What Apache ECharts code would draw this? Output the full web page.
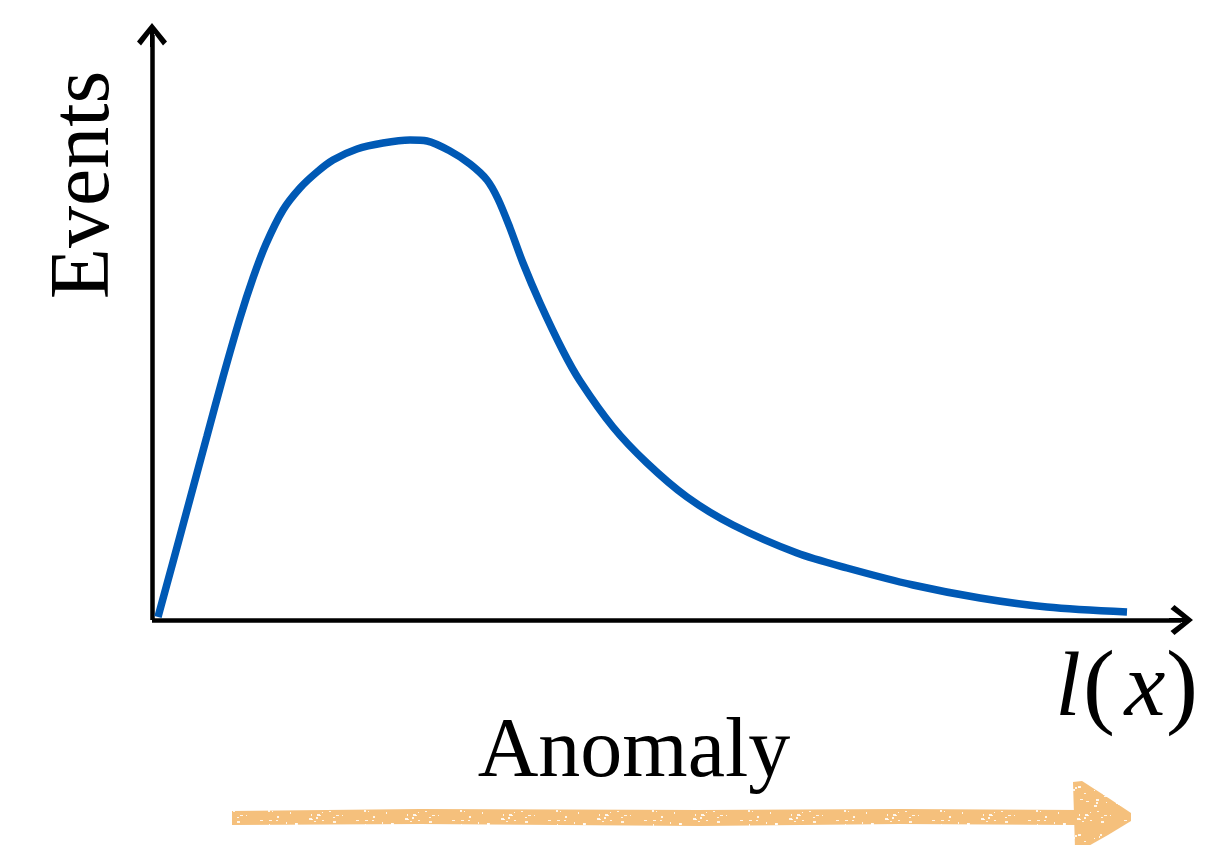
<!DOCTYPE html>
<html>
<head>
<meta charset="utf-8">
<style>
  html, body { margin: 0; padding: 0; background: #ffffff; }
  #chart { width: 1215px; height: 845px; }
</style>
<script src="https://cdn.jsdelivr.net/npm/echarts@6/dist/echarts.min.js"></script>
</head>
<body>
<div id="chart"></div>
<script>
// Distribution of events over the anomaly score l(x)
const scoreValues = [6, 21, 38, 55, 71, 88, 101, 114, 131, 148, 165, 181, 205, 231, 258, 275, 298, 318, 335, 346, 358, 371, 388, 411, 428, 461, 495, 535, 581, 645, 695, 761, 828, 895, 975];
const eventCounts = [3, 58, 121, 184, 243, 302, 342, 376, 410, 432, 448, 460, 471, 477, 480, 479, 469, 456, 440, 421, 392, 357, 317, 269, 239, 193, 157, 123, 95, 67, 52, 35, 22, 13, 8];

const xRange = [0, 1029];
const yRange = [0, 585];

const yAxisTitle = 'Events';
const xAxisTitle = ['l', '(', 'x', ')'];
const directionTitle = 'Anomaly';

const curveData = scoreValues.map((x, i) => [x, eventCounts[i]]);

// open chevron arrowhead (points up; ECharts rotates it along each axis)
const chevron = 'path://M15 0 L30 18.5 L26 22.5 L15 8 L4 22.5 L0 18.5 Z M13 6 L17 6 L17 24 L13 24 Z';

const axisCommon = {
  type: 'value',
  axisLine: {
    show: true,
    onZero: false,
    symbol: ['none', chevron],
    symbolSize: [30, 24],
    lineStyle: { color: '#000000', width: 4.5, cap: 'butt' }
  },
  axisTick: { show: false },
  axisLabel: { show: false },
  splitLine: { show: false }
};

const serif = '"Liberation Serif", "Times New Roman", serif';
const orange = '#f5c07c';

// chalky brush texture for the orange arrow (fixed speckle layout)
function chalkPattern() {
  const c = document.createElement('canvas');
  c.width = 96; c.height = 48;
  const g = c.getContext('2d');
  g.fillStyle = orange;
  g.fillRect(0, 0, c.width, c.height);
  g.fillStyle = 'rgba(255,255,255,0.85)';
  let s = 17;
  const next = () => { s = (s * 1103515245 + 12345) % 2147483648; return s / 2147483648; };
  for (let i = 0; i < 70; i++) {
    const w = 1 + Math.floor(next() * 3);
    const h = 1 + Math.floor(next() * 2);
    g.fillRect(Math.floor(next() * c.width), Math.floor(next() * c.height), w, h);
  }
  return c;
}
const chalk = { image: chalkPattern(), repeat: 'repeat' };

const chart = echarts.init(document.getElementById('chart'), null, { renderer: 'canvas' });
chart.setOption({
  backgroundColor: '#ffffff',
  animation: false,
  grid: { left: 152, top: 35, width: 1029, height: 585, containLabel: false },
  xAxis: Object.assign({}, axisCommon, { min: xRange[0], max: xRange[1] }),
  yAxis: Object.assign({}, axisCommon, { min: yRange[0], max: yRange[1] }),
  series: [{
    type: 'line',
    data: curveData,
    showSymbol: false,
    smooth: 0.3,
    clip: false,
    lineStyle: { color: '#0059b5', width: 7.5, cap: 'butt' },
    z: 1
  }],
  graphic: [
    {
      type: 'text', x: 86, y: 185, rotation: Math.PI / 2,
      style: {
        text: yAxisTitle, font: '84px ' + serif, fill: '#000000',
        align: 'center', verticalAlign: 'middle', textAlign: 'center', textVerticalAlign: 'middle'
      }
    },
    {
      type: 'text', x: 634, y: 754,
      style: {
        text: directionTitle, font: '84px ' + serif, fill: '#000000',
        align: 'center', verticalAlign: 'middle', textAlign: 'center', textVerticalAlign: 'middle'
      }
    },
    { type: 'text', x: 1068, y: 691, style: { text: xAxisTitle[0], font: 'italic 92px ' + serif, fill: '#000', align: 'center', verticalAlign: 'middle', textAlign: 'center', textVerticalAlign: 'middle' } },
    { type: 'text', x: 1099, y: 691, style: { text: xAxisTitle[1], font: '96px ' + serif, fill: '#000', align: 'center', verticalAlign: 'middle', textAlign: 'center', textVerticalAlign: 'middle' } },
    { type: 'text', x: 1145, y: 691, style: { text: xAxisTitle[2], font: 'italic 92px ' + serif, fill: '#000', align: 'center', verticalAlign: 'middle', textAlign: 'center', textVerticalAlign: 'middle' } },
    { type: 'text', x: 1182, y: 691, style: { text: xAxisTitle[3], font: '96px ' + serif, fill: '#000', align: 'center', verticalAlign: 'middle', textAlign: 'center', textVerticalAlign: 'middle' } },
    // brush-stroke arrow under the "Anomaly" caption
    {
      type: 'polygon',
      shape: { points: [[232, 811], [420, 809], [700, 810], [900, 809], [1078, 810], [1078, 825], [900, 824], [700, 826], [420, 824], [232, 825]] },
      style: { fill: chalk }
    },
    {
      type: 'polygon',
      shape: { points: [[1073, 782], [1082, 781], [1110, 799], [1131, 813], [1131, 821], [1108, 835], [1085, 848], [1075, 848]] },
      style: { fill: chalk }
    }
  ]
});
</script>
</body>
</html>
